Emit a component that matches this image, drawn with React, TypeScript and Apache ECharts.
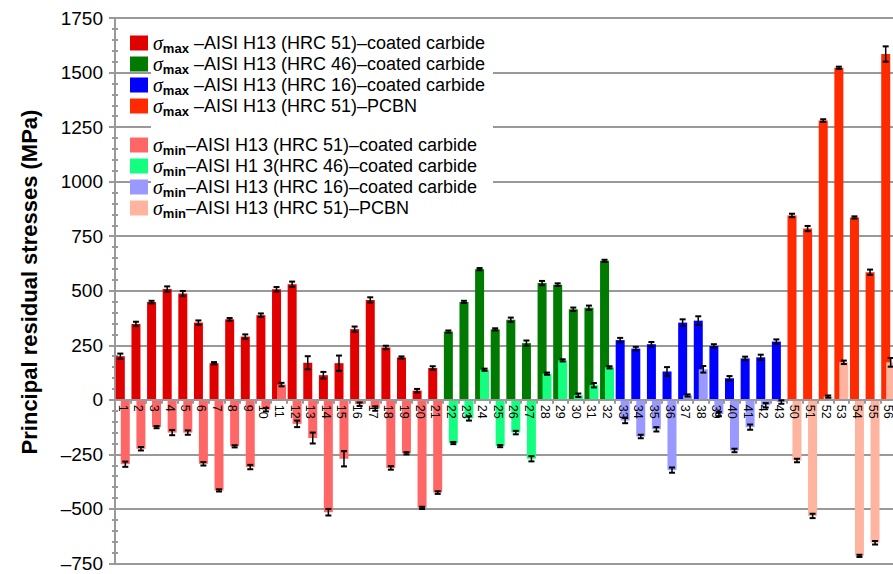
import React, { useEffect, useRef } from "react";
import * as echarts from "echarts";

const categories = [
  "1","2","3","4","5","6","7","8","9","10","11","12","13","14","15","16","17","18","19","20","21",
  "22","23","24","25","26","27","28","29","30","31","32",
  "33","34","35","36","37","38","39","40","41","42","43",
  "50","51","52","53","54","55","56",
];

// group A: AISI H13 (HRC 51) coated carbide, categories 1-21
const maxA = [200, 348, 448, 508, 487, 354, 168, 369, 290, 388, 507, 530, 170, 113, 168, 324, 458, 240, 194, 42, 146];
const minA = [-295, -224, -125, -150, -150, -293, -415, -213, -308, -45, 70, -110, -175, -515, -270, -20, -40, -312, -245, -495, -425];
const errMaxA = [12, 10, 6, 12, 12, 10, 5, 6, 10, 8, 10, 12, 30, 15, 35, 12, 12, 8, 5, 8, 8];
const errMinA = [12, 8, 5, 12, 10, 8, 5, 5, 10, 8, 8, 15, 25, 15, 35, 8, 10, 8, 5, 5, 6];
// group B: AISI H13 (HRC 46) coated carbide, categories 22-32
const maxB = [313, 449, 599, 323, 367, 260, 535, 528, 415, 422, 637];
const minB = [-198, -85, 138, -212, -150, -270, 120, 181, 21, 67, 149];
const errMaxB = [5, 5, 5, 5, 10, 12, 10, 6, 8, 10, 5];
const errMinB = [5, 10, 5, 5, 8, 12, 5, 5, 8, 10, 5];
// group C: AISI H13 (HRC 16) coated carbide, categories 33-43
const maxC = [274, 235, 255, 130, 354, 363, 247, 99, 190, 195, 267];
const minC = [-95, -168, -135, -322, 20, 140, -65, -232, -125, -25, -10];
const errMaxC = [10, 8, 10, 20, 15, 20, 8, 10, 8, 12, 10];
const errMinC = [12, 8, 10, 12, 5, 15, 10, 8, 12, 10, 8];
// group D: AISI H13 (HRC 51) PCBN, categories 50-56
const maxD = [845, 785, 1280, 1522, 836, 585, 1585];
const minD = [-278, -532, 15, 172, -715, -655, 172];
const errMaxD = [8, 12, 6, 5, 5, 12, 35];
const errMinD = [8, 10, 5, 8, 5, 8, 20];

const groupStart = [0, 21, 32, 43];

const names = [
  "σmax –AISI H13 (HRC 51)–coated carbide",
  "σmax –AISI H13 (HRC 46)–coated carbide",
  "σmax –AISI H13 (HRC 16)–coated carbide",
  "σmax –AISI H13 (HRC 51)–PCBN",
  "σmin–AISI H13 (HRC 51)–coated carbide",
  "σmin–AISI H1 3(HRC 46)–coated carbide",
  "σmin–AISI H13 (HRC 16)–coated carbide",
  "σmin–AISI H13 (HRC 51)–PCBN",
];
const colors = ["#E00000", "#007A00", "#0000FF", "#FF2A00", "#FF6666", "#14FF80", "#9999FF", "#FFB4A0"];

const Y_MIN = -750;
const Y_MAX = 1750;
const GRID_TOP = 18;
const GRID_BOTTOM = 10.5;
const H = 574;

function spread(vals: number[], start: number) {
  const arr: (number | string)[] = categories.map(() => "-");
  vals.forEach((v, i) => (arr[start + i] = v));
  return arr;
}

export default function App() {
  const ref = useRef<HTMLDivElement>(null);
  useEffect(() => {
    const chart = echarts.init(ref.current!, null, { renderer: "svg" });
    const maxs = [maxA, maxB, maxC, maxD];
    const mins = [minA, minB, minC, minD];
    const emax = [errMaxA, errMaxB, errMaxC, errMaxD];
    const emin = [errMinA, errMinB, errMinC, errMinD];

    const barSeries: any[] = [];
    maxs.forEach((vals, g) => {
      barSeries.push({
        name: names[g], type: "bar", stack: "max", barWidth: 9, barGap: "-45%",
        itemStyle: { color: colors[g] }, data: spread(vals, groupStart[g]),
      });
    });
    mins.forEach((vals, g) => {
      barSeries.push({
        name: names[4 + g], type: "bar", stack: "min", barWidth: 9, barGap: "-45%",
        itemStyle: { color: colors[4 + g] }, data: spread(vals, groupStart[g]),
      });
    });

    const errData: number[][] = [];
    maxs.forEach((vals, g) => vals.forEach((v, i) => errData.push([groupStart[g] + i, v, emax[g][i], -1])));
    mins.forEach((vals, g) => vals.forEach((v, i) => errData.push([groupStart[g] + i, v, emin[g][i], 1])));

    const legendFmt = (name: string) => {
      const isMax = name.startsWith("σmax");
      const rest = name.slice(4);
      return `{s|σ}{sub|${isMax ? "max" : "min"}}${rest}`;
    };
    const legendText = {
      fontSize: 18, fontFamily: "Liberation Sans, Arial", color: "#000",
      rich: {
        s: { fontFamily: "Liberation Serif", fontStyle: "italic", fontSize: 20, color: "#000" },
        sub: { fontFamily: "Liberation Sans", fontWeight: "bold", fontSize: 13, lineHeight: 13, padding: [11, 0, 0, 0], color: "#000" },
      },
    };

    const gridH = H - GRID_TOP - GRID_BOTTOM;
    const zeroOffset = -((0 - Y_MIN) / (Y_MAX - Y_MIN)) * gridH;

    const option: any = {
      animation: false,
      grid: { left: 115, right: -3, top: GRID_TOP, bottom: GRID_BOTTOM, containLabel: false, outerBoundsMode: "none" },
      legend: [
        {
          data: names.slice(0, 4), orient: "vertical", left: 125, top: 26, itemWidth: 18, itemHeight: 15,
          itemGap: -3, icon: "rect", formatter: legendFmt, textStyle: legendText, z: 5,
        },
        {
          data: names.slice(4), orient: "vertical", left: 125, top: 128, itemWidth: 18, itemHeight: 15,
          itemGap: -3, icon: "rect", formatter: legendFmt, textStyle: legendText, z: 5,
        },
      ],
      graphic: [
        { type: "rect", shape: { x: 151, y: 30, width: 342, height: 192 }, style: { fill: "#fff" }, z: 1 },
        {
          type: "text", x: 29, y: 282, rotation: Math.PI / 2, z: 5,
          style: {
            text: "Principal residual stresses (MPa)", fontSize: 22, fontWeight: "bold",
            fontFamily: "Liberation Sans, Arial", fill: "#000", align: "center", verticalAlign: "middle",
          },
        },
      ],
      xAxis: {
        type: "category", data: categories, position: "bottom", offset: zeroOffset, z: 3,
        axisLine: { onZero: false, lineStyle: { color: "#999", width: 2 } },
        axisTick: { show: true, length: 4, lineStyle: { color: "#999", width: 2 } },
        axisLabel: { rotate: -90, margin: 5, fontSize: 12.5, color: "#000", fontFamily: "Liberation Sans, Arial", interval: 0 },
      },
      yAxis: [
        {
          type: "value", min: Y_MIN, max: Y_MAX, interval: 250, position: "left",
          axisLine: { show: true, onZero: false, lineStyle: { color: "#999", width: 2 } },
          axisTick: { show: true, length: 6, lineStyle: { color: "#999", width: 2 } },
          minorTick: { show: true, splitNumber: 5, length: 3, lineStyle: { color: "#999", width: 2 } },
          splitLine: { show: true, lineStyle: { color: "#999", width: 2 } },
          axisLabel: {
            fontSize: 19, color: "#000", fontFamily: "Liberation Sans, Arial", margin: 12,
            formatter: (v: number) => (v < 0 ? "–" + Math.abs(v) : String(v)),
          },
        },
        {
          type: "value", min: Y_MIN, max: Y_MAX, interval: 250, position: "left",
          axisLine: { show: false, onZero: false },
          axisTick: { show: true, inside: true, length: 6, lineStyle: { color: "#999", width: 2 } },
          minorTick: { show: true, splitNumber: 5, length: 3, lineStyle: { color: "#999", width: 2 } },
          splitLine: { show: false },
          axisLabel: { show: false },
        },
      ],
      series: [
        ...barSeries,
        {
          type: "custom", name: "err", z: 4, data: errData, encode: { x: 0, y: 1 },
          renderItem: (params: any, api: any) => {
            const ci = api.value(0), v = api.value(1), e = api.value(2), side = api.value(3);
            const c = api.coord([ci, v]);
            const t = api.coord([ci, v + e]);
            const b = api.coord([ci, v - e]);
            const x = c[0] + side * 2.5;
            const hw = 3;
            return {
              type: "group",
              children: [
                { type: "line", shape: { x1: x, y1: t[1], x2: x, y2: b[1] }, style: { stroke: "#000", lineWidth: 1.5 } },
                { type: "line", shape: { x1: x - hw, y1: t[1], x2: x + hw, y2: t[1] }, style: { stroke: "#000", lineWidth: 2 } },
                { type: "line", shape: { x1: x - hw, y1: b[1], x2: x + hw, y2: b[1] }, style: { stroke: "#000", lineWidth: 2 } },
              ],
            };
          },
        },
      ],
    };
    chart.setOption(option);
    return () => chart.dispose();
  }, []);
  return <div ref={ref} style={{ position: "absolute", left: 0, top: 0, width: 893, height: 574, background: "#fff" }} />;
}
